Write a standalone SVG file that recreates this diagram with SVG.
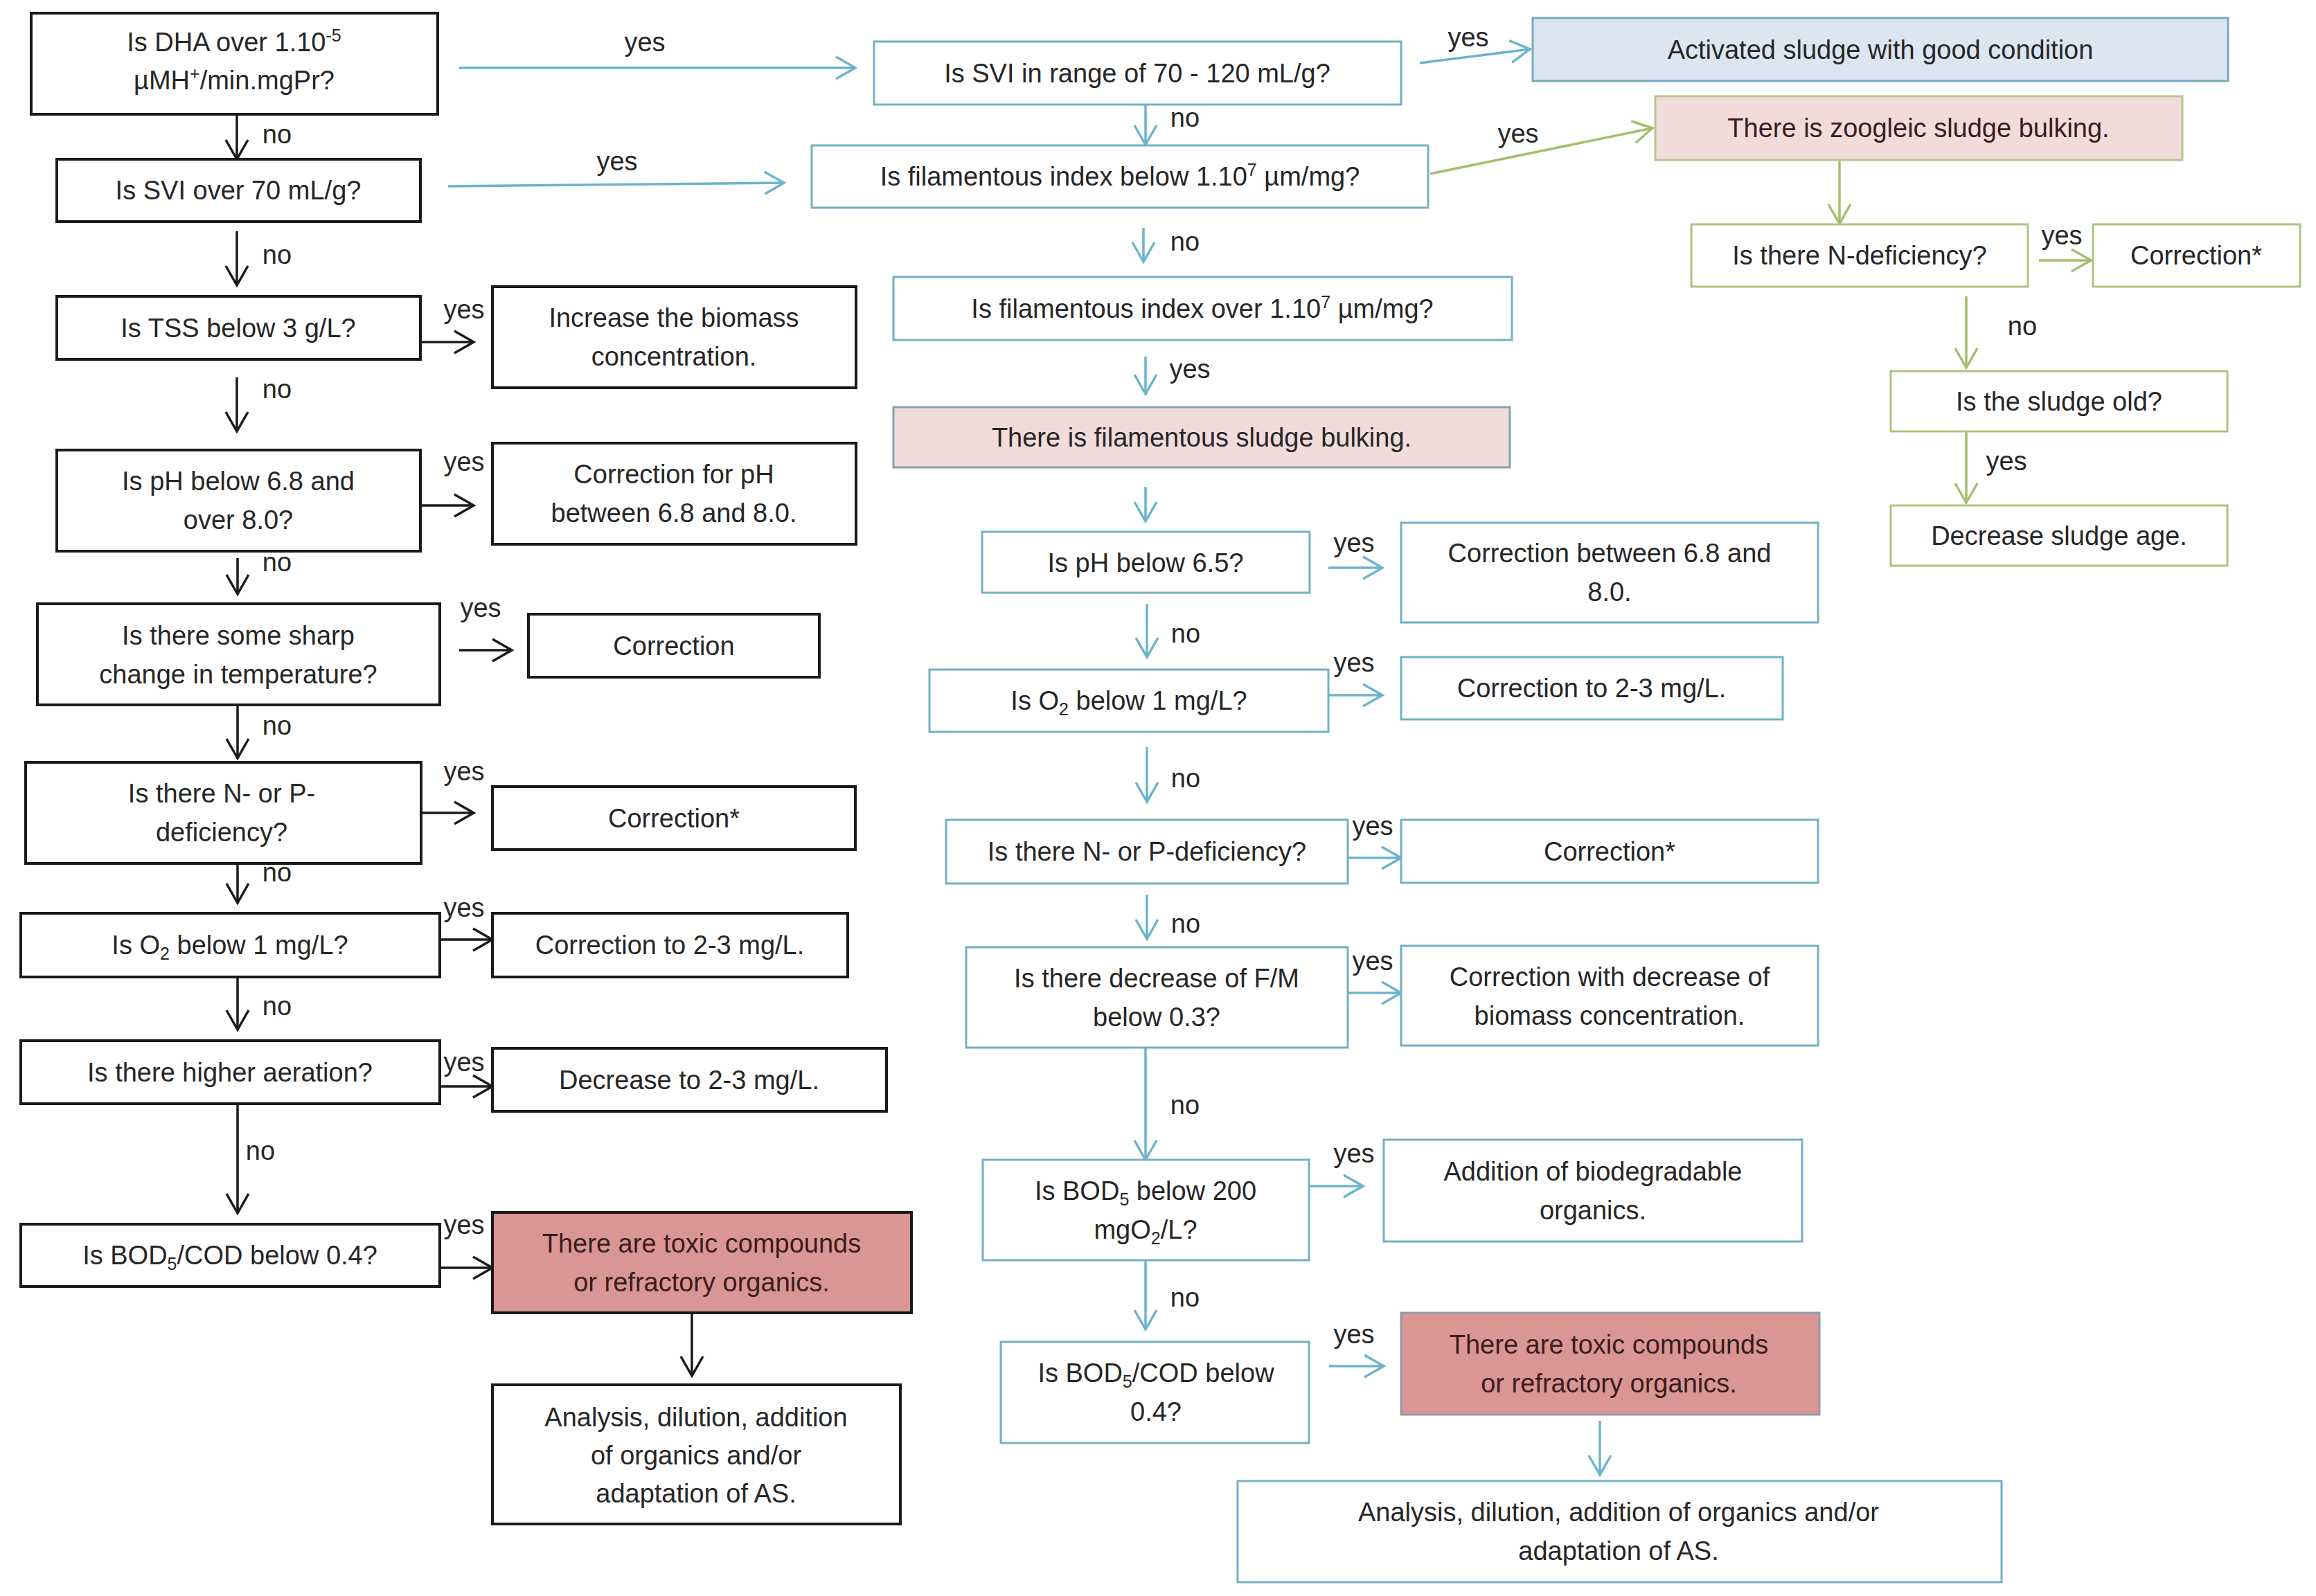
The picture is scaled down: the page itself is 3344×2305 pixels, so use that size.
<svg xmlns="http://www.w3.org/2000/svg" width="3344" height="2305" viewBox="0 0 3344 2305">
<defs>
<style>
.t{font-family:"Liberation Sans",Arial,sans-serif;font-size:38px;fill:#262626;text-anchor:middle}
.r{fill:#3a1c1c}
.lb{font-family:"Liberation Sans",Arial,sans-serif;font-size:38px;fill:#262626;text-anchor:middle}
.kb{fill:#fff;stroke:#1a1a1a;stroke-width:4}
.kr{fill:#d99694;stroke:#1a1a1a;stroke-width:4}
.bb{fill:#fff;stroke:#72b0c4;stroke-width:3}
.bg{fill:#dce6f2;stroke:#79a9bb;stroke-width:3}
.bp{fill:#f2dcdb;stroke:#7ea3ad;stroke-width:3}
.br{fill:#d99694;stroke:#8e9bab;stroke-width:3}
.gb{fill:#fff;stroke:#adc47f;stroke-width:3}
.gp{fill:#f2dcdb;stroke:#b8c48e;stroke-width:3}
.ck{fill:none;stroke:#1a1a1a;stroke-width:3.5;marker-end:url(#ak)}
.cb{fill:none;stroke:#6cb4cc;stroke-width:3.5;marker-end:url(#ab)}
.cg{fill:none;stroke:#a3bf6e;stroke-width:3.5;marker-end:url(#ag)}
</style>
<marker id="ak" markerUnits="userSpaceOnUse" markerWidth="40" markerHeight="40" viewBox="0 0 40 40" refX="36" refY="20" orient="auto"><path d="M8,4 L36,20 L8,36" fill="none" stroke="#1a1a1a" stroke-width="3.5"/></marker>
<marker id="ab" markerUnits="userSpaceOnUse" markerWidth="40" markerHeight="40" viewBox="0 0 40 40" refX="36" refY="20" orient="auto"><path d="M8,4 L36,20 L8,36" fill="none" stroke="#6cb4cc" stroke-width="3.5"/></marker>
<marker id="ag" markerUnits="userSpaceOnUse" markerWidth="40" markerHeight="40" viewBox="0 0 40 40" refX="36" refY="20" orient="auto"><path d="M8,4 L36,20 L8,36" fill="none" stroke="#a3bf6e" stroke-width="3.5"/></marker>
</defs>
<rect width="3344" height="2305" fill="#fff"/>

<g id="connectors">
<path class="ck" d="M342,165 V230"/>
<path class="ck" d="M342,334 V412"/>
<path class="ck" d="M342,545 V623"/>
<path class="ck" d="M607,494 H684"/>
<path class="ck" d="M607,730 H684"/>
<path class="ck" d="M343,806 V858"/>
<path class="ck" d="M663,939 H739"/>
<path class="ck" d="M343,1018 V1095"/>
<path class="ck" d="M608,1174 H684"/>
<path class="ck" d="M343,1227 V1304"/>
<path class="ck" d="M635,1357 H711"/>
<path class="ck" d="M343,1411 V1487"/>
<path class="ck" d="M635,1569 H711"/>
<path class="ck" d="M343,1594 V1752"/>
<path class="ck" d="M635,1831 H711"/>
<path class="ck" d="M999,1882 V1987"/>

<path class="cb" d="M663,98 H1235"/>
<path class="cb" d="M647,269 L1132,264"/>
<path class="cb" d="M2050,91 L2209,71"/>
<path class="cb" d="M1654,151 V209"/>
<path class="cb" d="M1651,329 V378"/>
<path class="cb" d="M1654,515 V569"/>
<path class="cb" d="M1654,703 V753"/>
<path class="cb" d="M1918,820 H1996"/>
<path class="cb" d="M1656,872 V949"/>
<path class="cb" d="M1918,1004 H1996"/>
<path class="cb" d="M1656,1079 V1158"/>
<path class="cb" d="M1946,1239 H2023"/>
<path class="cb" d="M1656,1292 V1356"/>
<path class="cb" d="M1946,1434 H2023"/>
<path class="cb" d="M1654,1513 V1675"/>
<path class="cb" d="M1892,1713 H1968"/>
<path class="cb" d="M1654,1820 V1920"/>
<path class="cb" d="M1919,1973 H1998"/>
<path class="cb" d="M2310,2052 V2130"/>

<path class="cg" d="M2065,251 L2386,185"/>
<path class="cg" d="M2656,231 V323"/>
<path class="cg" d="M2944,376 H3019"/>
<path class="cg" d="M2839,428 V531"/>
<path class="cg" d="M2839,623 V726"/>

<g class="lb">
<text x="400" y="207">no</text>
<text x="400" y="381">no</text>
<text x="400" y="575">no</text>
<text x="400" y="825">no</text>
<text x="400" y="1061">no</text>
<text x="400" y="1273">no</text>
<text x="400" y="1466">no</text>
<text x="376" y="1675">no</text>
<text x="670" y="460">yes</text>
<text x="670" y="680">yes</text>
<text x="694" y="891">yes</text>
<text x="670" y="1127">yes</text>
<text x="670" y="1324">yes</text>
<text x="670" y="1547">yes</text>
<text x="670" y="1782">yes</text>
<text x="931" y="74">yes</text>
<text x="891" y="246">yes</text>
<text x="2120" y="67">yes</text>
<text x="1711" y="183">no</text>
<text x="1711" y="362">no</text>
<text x="1718" y="546">yes</text>
<text x="1955" y="797">yes</text>
<text x="1712" y="928">no</text>
<text x="1955" y="970">yes</text>
<text x="1712" y="1137">no</text>
<text x="1982" y="1206">yes</text>
<text x="1712" y="1347">no</text>
<text x="1982" y="1401">yes</text>
<text x="1711" y="1609">no</text>
<text x="1955" y="1679">yes</text>
<text x="1711" y="1887">no</text>
<text x="1955" y="1940">yes</text>
<text x="2192" y="206">yes</text>
<text x="2977" y="353">yes</text>
<text x="2920" y="484">no</text>
<text x="2897" y="679">yes</text>
</g>
</g>

<g id="B1"><rect class="kb" x="45" y="19" width="587" height="146"/>
<text class="t" x="338" y="74">Is DHA over 1.10<tspan dy="-14" font-size="25">-5</tspan></text>
<text class="t" x="338" y="129">µMH<tspan dy="-14" font-size="25">+</tspan><tspan dy="14">/min.mgPr?</tspan></text></g>
<g id="B2"><rect class="kb" x="82" y="230" width="525" height="90"/><text class="t" x="344" y="288">Is SVI over 70 mL/g?</text></g>
<g id="B3"><rect class="kb" x="82" y="428" width="525" height="91"/><text class="t" x="344" y="487">Is TSS below 3 g/L?</text></g>
<g id="B3r"><rect class="kb" x="711" y="414" width="525" height="146"/><text class="t" x="973" y="472">Increase the biomass</text><text class="t" x="973" y="528">concentration.</text></g>
<g id="B4"><rect class="kb" x="82" y="650" width="525" height="146"/><text class="t" x="344" y="708">Is pH below 6.8 and</text><text class="t" x="344" y="764">over 8.0?</text></g>
<g id="B4r"><rect class="kb" x="711" y="640" width="525" height="146"/><text class="t" x="973" y="698">Correction for pH</text><text class="t" x="973" y="754">between 6.8 and 8.0.</text></g>
<g id="B5"><rect class="kb" x="54" y="872" width="581" height="146"/><text class="t" x="344" y="931">Is there some sharp</text><text class="t" x="344" y="987">change in temperature?</text></g>
<g id="B5r"><rect class="kb" x="763" y="887" width="420" height="91"/><text class="t" x="973" y="946">Correction</text></g>
<g id="B6"><rect class="kb" x="37" y="1101" width="571" height="146"/><text class="t" x="320" y="1159">Is there N- or P-</text><text class="t" x="320" y="1215">deficiency?</text></g>
<g id="B6r"><rect class="kb" x="711" y="1136" width="524" height="91"/><text class="t" x="973" y="1195">Correction*</text></g>
<g id="B7"><rect class="kb" x="30" y="1319" width="605" height="92"/><text class="t" x="332" y="1378">Is O<tspan dy="8" font-size="25">2</tspan><tspan dy="-8"> below 1 mg/L?</tspan></text></g>
<g id="B7r"><rect class="kb" x="711" y="1319" width="513" height="92"/><text class="t" x="967" y="1378">Correction to 2-3 mg/L.</text></g>
<g id="B8"><rect class="kb" x="30" y="1503" width="605" height="91"/><text class="t" x="332" y="1562">Is there higher aeration?</text></g>
<g id="B8r"><rect class="kb" x="711" y="1514" width="569" height="91"/><text class="t" x="995" y="1573">Decrease to 2-3 mg/L.</text></g>
<g id="B9"><rect class="kb" x="30" y="1768" width="605" height="90"/><text class="t" x="332" y="1826">Is BOD<tspan dy="8" font-size="25">5</tspan><tspan dy="-8">/COD below 0.4?</tspan></text></g>
<g id="B9r"><rect class="kb kr" x="711" y="1751" width="605" height="145"/><text class="t r" x="1013" y="1809">There are toxic compounds</text><text class="t r" x="1013" y="1865">or refractory organics.</text></g>
<g id="B10"><rect class="kb" x="711" y="2000" width="589" height="201"/><text class="t" x="1005" y="2060">Analysis, dilution, addition</text><text class="t" x="1005" y="2115">of organics and/or</text><text class="t" x="1005" y="2170">adaptation of AS.</text></g>

<g id="M1"><rect class="bb" x="1262" y="60" width="761" height="91"/><text class="t" x="1642" y="119">Is SVI in range of 70 - 120 mL/g?</text></g>
<g id="G1"><rect class="bg" x="2213" y="26" width="1004" height="91"/><text class="t" x="2715" y="85">Activated sludge with good condition</text></g>
<g id="M2"><rect class="bb" x="1172" y="210" width="890" height="90"/><text class="t" x="1617" y="268">Is filamentous index below 1.10<tspan dy="-14" font-size="25">7</tspan><tspan dy="14"> µm/mg?</tspan></text></g>
<g id="M3"><rect class="bb" x="1290" y="400" width="893" height="91"/><text class="t" x="1736" y="459">Is filamentous index over 1.10<tspan dy="-14" font-size="25">7</tspan><tspan dy="14"> µm/mg?</tspan></text></g>
<g id="M4"><rect class="bp" x="1290" y="588" width="890" height="87"/><text class="t" x="1735" y="645">There is filamentous sludge bulking.</text></g>
<g id="M5"><rect class="bb" x="1418" y="768" width="473" height="88"/><text class="t" x="1654" y="826">Is pH below 6.5?</text></g>
<g id="M5r"><rect class="bb" x="2023" y="755" width="602" height="144"/><text class="t" x="2324" y="812">Correction between 6.8 and</text><text class="t" x="2324" y="868">8.0.</text></g>
<g id="M6"><rect class="bb" x="1342" y="967" width="576" height="90"/><text class="t" x="1630" y="1025">Is O<tspan dy="8" font-size="25">2</tspan><tspan dy="-8"> below 1 mg/L?</tspan></text></g>
<g id="M6r"><rect class="bb" x="2023" y="949" width="551" height="90"/><text class="t" x="2298" y="1007">Correction to 2-3 mg/L.</text></g>
<g id="M7"><rect class="bb" x="1366" y="1184" width="580" height="92"/><text class="t" x="1656" y="1243">Is there N- or P-deficiency?</text></g>
<g id="M7r"><rect class="bb" x="2023" y="1184" width="602" height="91"/><text class="t" x="2324" y="1243">Correction*</text></g>
<g id="M8"><rect class="bb" x="1395" y="1368" width="551" height="145"/><text class="t" x="1670" y="1426">Is there decrease of F/M</text><text class="t" x="1670" y="1482">below 0.3?</text></g>
<g id="M8r"><rect class="bb" x="2023" y="1366" width="602" height="144"/><text class="t" x="2324" y="1424">Correction with decrease of</text><text class="t" x="2324" y="1480">biomass concentration.</text></g>
<g id="M9"><rect class="bb" x="1419" y="1675" width="471" height="145"/><text class="t" x="1654" y="1733">Is BOD<tspan dy="8" font-size="25">5</tspan><tspan dy="-8"> below 200</tspan></text><text class="t" x="1654" y="1789">mgO<tspan dy="8" font-size="25">2</tspan><tspan dy="-8">/L?</tspan></text></g>
<g id="M9r"><rect class="bb" x="1998" y="1646" width="604" height="147"/><text class="t" x="2300" y="1705">Addition of biodegradable</text><text class="t" x="2300" y="1761">organics.</text></g>
<g id="M10"><rect class="bb" x="1445" y="1938" width="445" height="146"/><text class="t" x="1669" y="1996">Is BOD<tspan dy="8" font-size="25">5</tspan><tspan dy="-8">/COD below</tspan></text><text class="t" x="1669" y="2052">0.4?</text></g>
<g id="M10r"><rect class="br" x="2023" y="1896" width="604" height="147"/><text class="t r" x="2323" y="1955">There are toxic compounds</text><text class="t r" x="2323" y="2011">or refractory organics.</text></g>
<g id="M11"><rect class="bb" x="1787" y="2139" width="1103" height="146"/><text class="t" x="2337" y="2197">Analysis, dilution, addition of organics and/or</text><text class="t" x="2337" y="2253">adaptation of AS.</text></g>

<g id="Z1"><rect class="gp" x="2390" y="139" width="761" height="92"/><text class="t r" x="2770" y="198">There is zoogleic sludge bulking.</text></g>
<g id="Z2"><rect class="gb" x="2442" y="324" width="486" height="90"/><text class="t" x="2685" y="382">Is there N-deficiency?</text></g>
<g id="Z2r"><rect class="gb" x="3022" y="324" width="299" height="90"/><text class="t" x="3171" y="382">Correction*</text></g>
<g id="Z3"><rect class="gb" x="2730" y="536" width="486" height="87"/><text class="t" x="2973" y="593">Is the sludge old?</text></g>
<g id="Z4"><rect class="gb" x="2730" y="730" width="486" height="87"/><text class="t" x="2973" y="787">Decrease sludge age.</text></g>
</svg>
